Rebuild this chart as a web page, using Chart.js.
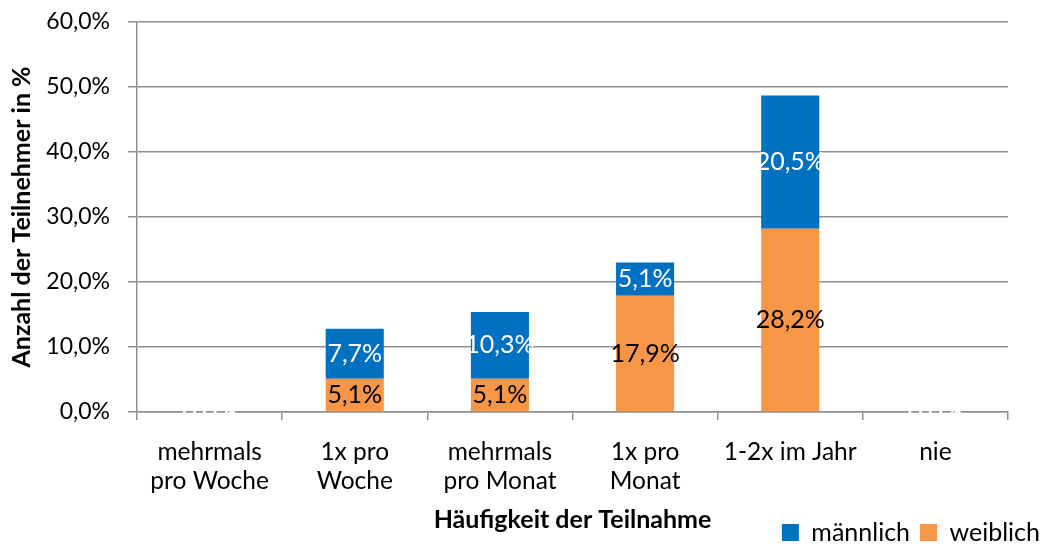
<!DOCTYPE html>
<html>
<head>
<meta charset="utf-8">
<script src="https://cdn.jsdelivr.net/npm/chart.js@4.4.1/dist/chart.umd.min.js"></script>
<style>
  html, body { margin: 0; padding: 0; background: #ffffff; }
  #wrap { width: 1050px; height: 546px; position: relative; }
</style>
</head>
<body>
<div id="wrap"><canvas id="c" width="1050" height="546"></canvas></div>
<script>
// ---- data ----
const categories = [
  ['mehrmals', 'pro Woche'],
  ['1x pro', 'Woche'],
  ['mehrmals', 'pro Monat'],
  ['1x pro', 'Monat'],
  '1-2x im Jahr',
  'nie'
];
const maennlich = [0, 7.7, 10.3, 5.1, 20.5, 0];
const weiblich  = [0, 5.1, 5.1, 17.9, 28.2, 0];
const yTicks = [0, 10, 20, 30, 40, 50, 60];
const seriesNames = ['männlich', 'weiblich'];
const xTitle = 'Häufigkeit der Teilnahme';
const yTitle = 'Anzahl der Teilnehmer in %';

// ---- styles ----
const FONT = 'Lato, "Open Sans", sans-serif';
const BLUE = '#0070C0';
const ORANGE = '#F79646';
const GRID = '#909090';

const fmt = v => v.toFixed(1).replace('.', ',') + '%';

const labelPlugin = {
  id: 'barLabels',
  afterDatasetsDraw(chart) {
    const ctx = chart.ctx;
    ctx.save();
    ctx.font = '25px ' + FONT;
    ctx.textAlign = 'center';
    ctx.textBaseline = 'middle';
    chart.data.datasets.forEach((ds, di) => {
      const meta = chart.getDatasetMeta(di);
      meta.data.forEach((el, i) => {
        const v = ds.data[i];
        const cy = (el.y + el.base) / 2;
        ctx.fillStyle = (v === 0) ? '#ffffff' : ds.labelColor;
        ctx.fillText(fmt(v), el.x, cy);
      });
    });
    ctx.restore();
  }
};

new Chart(document.getElementById('c'), {
  type: 'bar',
  data: {
    labels: categories,
    datasets: [
      { label: seriesNames[1], data: weiblich, backgroundColor: ORANGE, labelColor: '#000000',
        categoryPercentage: 1.0, barPercentage: 0.4, yAxisID: 'y' },
      { label: seriesNames[0], data: maennlich, backgroundColor: BLUE, labelColor: '#ffffff',
        categoryPercentage: 1.0, barPercentage: 0.4, yAxisID: 'y' }
    ]
  },
  options: {
    responsive: false,
    animation: false,
    devicePixelRatio: 1,
    layout: { padding: { top: 22, right: 0, left: 0, bottom: -9 } },
    plugins: {
      legend: {
        position: 'bottom',
        align: 'end',
        reverse: true,
        labels: {
          font: { family: FONT, size: 25 },
          color: '#000000',
          boxWidth: 17,
          boxHeight: 17,
          padding: 10
        }
      },
      tooltip: { enabled: false }
    },
    scales: {
      x: {
        stacked: true,
        grid: { display: true, drawOnChartArea: false, drawTicks: true, tickLength: 8, color: GRID, lineWidth: 1.5, offset: true },
        border: { display: true, color: GRID, width: 1.5 },
        ticks: { font: { family: FONT, size: 24.5, lineHeight: 1.2 }, color: '#000000', padding: 17, maxRotation: 0, autoSkip: false },
        title: { display: true, text: xTitle, font: { family: FONT, size: 25, weight: 'bold' }, color: '#000000', padding: { top: 0, bottom: -25 } },
        afterFit: s => { s.height = 98; s.paddingLeft = 0; s.paddingRight = 0; }
      },
      y: {
        stacked: true,
        min: 0, max: 60,
        afterBuildTicks: s => { s.ticks = yTicks.map(v => ({ value: v })); },
        grid: { display: true, drawOnChartArea: true, drawTicks: true, tickLength: 9, color: GRID, lineWidth: 1.5 },
        border: { display: true, color: GRID, width: 1.5 },
        ticks: { font: { family: FONT, size: 23 }, color: '#000000', padding: 18, callback: v => fmt(v) },
        title: { display: true, text: yTitle, font: { family: FONT, size: 25, weight: 'bold' }, color: '#000000', padding: { top: 7, bottom: 0 } },
        afterFit: s => { s.width = 137; s.paddingTop = 0; s.paddingBottom = 0; }
      },
      yRight: {
        type: 'linear',
        position: 'right',
        display: true,
        grid: { display: false, drawTicks: false },
        border: { display: false },
        ticks: { display: false },
        afterFit: s => { s.width = 42; s.paddingTop = 0; s.paddingBottom = 0; }
      }
    }
  },
  plugins: [labelPlugin]
});
</script>
</body>
</html>
